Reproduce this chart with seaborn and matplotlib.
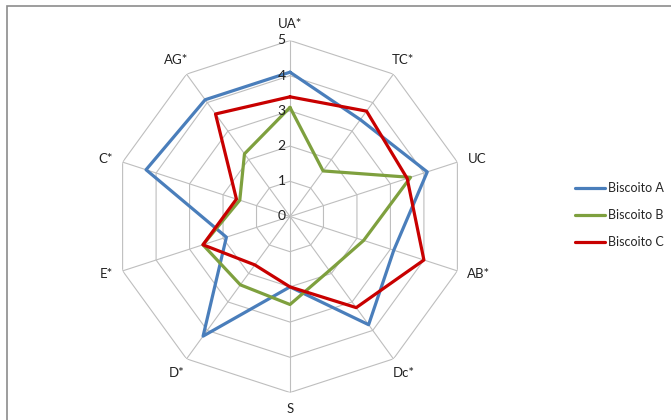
import numpy as np
import pandas as pd
import matplotlib
matplotlib.use("Agg")
import matplotlib.pyplot as plt
from matplotlib.patches import Rectangle
from matplotlib.lines import Line2D
import seaborn as sns

# ---- data ----
categories = ['UA*', 'TC*', 'UC', 'AB*', 'Dc*', 'S', 'D*', 'E*', 'C*', 'AG*']
biscoito_a = [4.1, 3.4, 4.1, 3.1, 3.8, 2.0, 4.2, 1.9, 4.3, 4.1]
biscoito_b = [3.1, 1.6, 3.6, 2.2, 1.9, 2.5, 2.4, 2.6, 1.5, 2.2]
biscoito_c = [3.4, 3.7, 3.5, 4.0, 3.2, 2.0, 1.7, 2.6, 1.6, 3.6]
series_names = ['Biscoito A', 'Biscoito B', 'Biscoito C']
r_ticks = [0, 1, 2, 3, 4, 5]

sns.set_theme(style="white")
plt.rcParams['font.family'] = ['Lato', 'DejaVu Sans']

colors = {'Biscoito A': '#4A7EBB', 'Biscoito B': '#7EA03E', 'Biscoito C': '#C80000'}

n = len(categories)
theta = np.linspace(0, 2 * np.pi, n, endpoint=False)
closed_theta = np.append(theta, 2 * np.pi)

frames = []
for name, vals in zip(series_names, [biscoito_a, biscoito_b, biscoito_c]):
    frames.append(pd.DataFrame({'theta': closed_theta,
                                'value': list(vals) + [vals[0]],
                                'series': name}))
df = pd.concat(frames, ignore_index=True)

fig = plt.figure(figsize=(6.71, 4.2), dpi=100)
fig.patch.set_facecolor('white')

cx, cy, R = 290, 420 - 216.5, 176
ax = fig.add_axes([(cx - R) / 671, (cy - R) / 420, 2 * R / 671, 2 * R / 420], projection='polar')
ax.set_theta_zero_location('N')
ax.set_theta_direction(-1)
ax.grid(False)
ax.spines['polar'].set_visible(False)
ax.set_facecolor('none')

grid_col = '#BEBEBE'
for r in r_ticks[1:]:
    ax.plot(closed_theta, [r] * (n + 1), color=grid_col, lw=0.8, zorder=1)
for t in theta:
    ax.plot([t, t], [0, 5], color=grid_col, lw=0.8, zorder=1)

sns.lineplot(data=df, x='theta', y='value', hue='series', palette=colors,
             sort=False, estimator=None, units='series', ax=ax, lw=2.3, zorder=3,
             legend=False)
ax.set_xlabel('')
ax.set_ylabel('')
ax.set_xticks([])
ax.set_yticks([])
ax.set_ylim(0, 5)

for r in r_ticks:
    ax.annotate(str(r), xy=(0, r), xytext=(-3, 0), textcoords='offset points',
                ha='right', va='center', fontsize=10, color='#222222')

for t, lab in zip(theta, categories):
    s = np.sin(t)
    if abs(s) > 0.9:
        ha = 'left' if s > 0 else 'right'
        ax.text(t, 5.3, lab, ha=ha, va='center', fontsize=9.5, color='#222222')
    else:
        ax.text(t, 5.48, lab, ha='center', va='center', fontsize=9.5, color='#222222')

handles = [Line2D([0], [0], color=colors[s], lw=2.3) for s in series_names]
fig.legend(handles, series_names, loc='center left', bbox_to_anchor=(571 / 671, 1 - 215 / 420),
           frameon=False, fontsize=9, handlelength=2.4, handletextpad=0.25, labelspacing=1.2,
           borderpad=0.3, borderaxespad=0.0)

fig.patches.append(Rectangle((7 / 671, -0.1), 1.2, 1.1 - 6 / 420, transform=fig.transFigure,
                             fill=False, edgecolor='#8C8C8C', lw=1.2))

fig.savefig('out.png', dpi=100)
